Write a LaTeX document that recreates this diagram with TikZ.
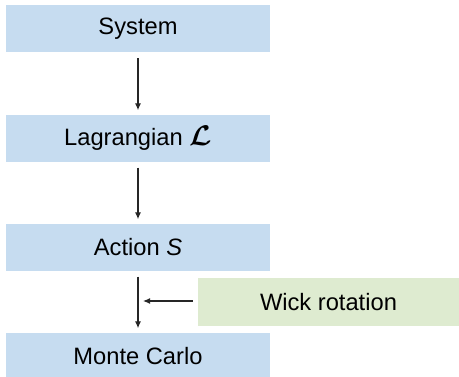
\RequirePackage{fix-cm}
\documentclass[tikz,border=0pt]{standalone}
\usepackage{amsmath}
\usepackage{bm}
\usepackage{fontspec}
\setmainfont{Liberation Sans}
\usetikzlibrary{arrows.meta}
\definecolor{boxblue}{HTML}{C6DCF0}
\definecolor{boxgreen}{HTML}{DEEBD0}
\begin{document}
\begin{tikzpicture}[x=1pt,y=-1pt,
  flowbox/.style={fill=boxblue, draw=none, minimum width=264pt, minimum height=47pt, inner sep=0pt,
    font=\fontsize{23.7}{28}\selectfont},
  notebox/.style={fill=boxgreen, draw=none, minimum width=261pt, minimum height=48pt, inner sep=0pt,
    font=\fontsize{23.7}{28}\selectfont},
  conn/.style={-{Latex[length=7pt,width=6pt]}, line width=1.2pt, black!85}]
\useasboundingbox (0,0) rectangle (459,376);
\node[flowbox] (sys) at (138,28.5) {System};
\node[flowbox] (lag) at (138,138) {Lagrangian \raisebox{-0.5pt}{\scalebox{1.2}{$\bm{\mathcal{L}}$}}};
\node[flowbox] (act) at (138,247) {Action \textit{S}};
\node[flowbox] (mc) at (138,356) {Monte Carlo};
\node[notebox] (wick) at (328.5,302) {Wick rotation};
\draw[conn, shorten <=6pt, shorten >=4pt] (sys) -- (lag);
\draw[conn, shorten <=6pt, shorten >=4pt] (lag) -- (act);
\draw[conn, shorten <=6pt, shorten >=4pt] (act) -- (mc);
\coordinate (mid) at (143,301);
\draw[conn, shorten <=5pt] (wick.west |- mid) -- (mid);
\end{tikzpicture}
\end{document}
